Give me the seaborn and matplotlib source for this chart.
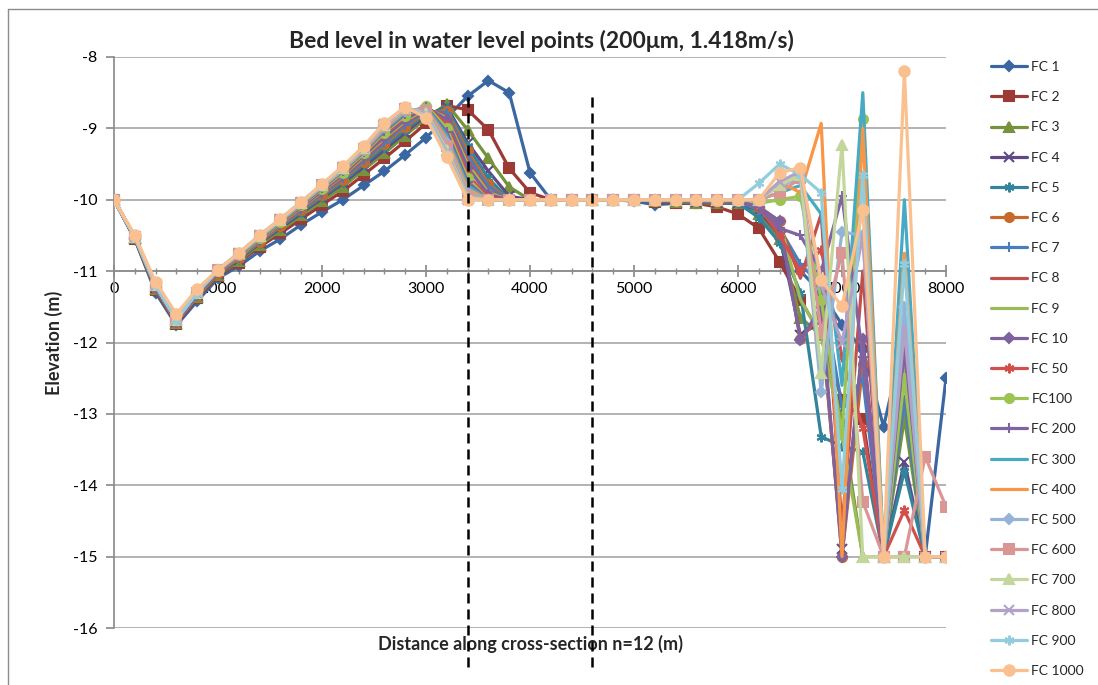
import matplotlib
matplotlib.use("Agg")
import matplotlib.pyplot as plt
from matplotlib.lines import Line2D
from matplotlib.ticker import MultipleLocator
import numpy as np
import pandas as pd
import seaborn as sns

# ---------------- data ----------------
distance = [0, 200, 400, 600, 800, 1000, 1200, 1400, 1600, 1800, 2000, 2200, 2400, 2600,
            2800, 3000, 3200, 3400, 3600, 3800, 4000, 4200, 4400, 4600, 4800, 5000, 5200,
            5400, 5600, 5800, 6000, 6200, 6400, 6600, 6800, 7000, 7200, 7400, 7600, 7800, 8000]

series_names = ["FC 1", "FC 2", "FC 3", "FC 4", "FC 5", "FC 6", "FC 7", "FC 8", "FC 9",
                "FC 10", "FC 50", "FC100", "FC 200", "FC 300", "FC 400", "FC 500", "FC 600",
                "FC 700", "FC 800", "FC 900", "FC 1000"]

fc1 = [-10.0, -10.55, -11.3, -11.76, -11.42,
       -11.1, -10.93, -10.72, -10.55, -10.35, -10.17, -10.0, -9.8, -9.6, -9.37, -9.13, -8.85, -8.55, -8.33, -8.5, -9.62,
       -10.0, -10.0, -10.0, -10.0, -10.02, -10.07, -10.05, -10.05, -10.05,
       -10.05, -10.12, -10.45, -11.0, -11.3, -11.75, -12.1, -13.18, -11.9, -15.0, -12.5]
fc2 = [-10.0, -10.55, -11.27, -11.74, -11.38,
       -11.07, -10.88, -10.66, -10.47, -10.27, -10.07, -9.88, -9.65, -9.42, -9.18, -8.93, -8.68, -8.74, -9.02, -9.56, -9.9,
       -10.0, -10.0, -10.0, -10.0, -10.0, -10.03, -10.05, -10.05, -10.1,
       -10.2, -10.4, -10.87, -11.4, -11.9, -12.8, -13.07, -15.0, -15.0, -15.0, -15.0]
fc3 = [-10.0, -10.54, -11.25, -11.72, -11.36,
       -11.05, -10.86, -10.63, -10.43, -10.22, -10.02, -9.82, -9.58, -9.35, -9.1, -8.86, -8.66, -9.02, -9.42, -9.82, -10.0,
       -10.0, -10.0, -10.0, -10.0, -10.0, -10.02, -10.03, -10.04, -10.05,
       -10.05, -10.2, -10.55, -11.65, -11.9, -13.1, -15.0, -15.0, -13.06, -15.0, -15.0]
fc4 = [-10.0, -10.53, -11.23, -11.71, -11.34,
       -11.04, -10.84, -10.61, -10.4, -10.19, -9.98, -9.77, -9.54, -9.3, -9.06, -8.82, -8.7, -9.2, -9.6, -9.95, -10.0,
       -10.0, -10.0, -10.0, -10.0, -10.0, -10.02, -10.02, -10.03, -10.04,
       -10.05, -10.15, -10.5, -11.9, -11.7, -14.9, -12.0, -15.0, -13.67, -15.0, -15.0]
fc5 = [-10.0, -10.53, -11.23, -11.71, -11.34,
       -11.03, -10.83, -10.6, -10.38, -10.17, -9.96, -9.75, -9.5, -9.26, -9.02, -8.8, -8.72, -9.25, -9.7, -10.0, -10.0,
       -10.0, -10.0, -10.0, -10.0, -10.0, -10.02, -10.02, -10.03, -10.03,
       -10.05, -10.25, -10.6, -11.3, -13.32, -13.45, -13.53, -15.0, -13.8, -15.0, -15.0]
fc6 = [-10.0, -10.53, -11.23, -11.71, -11.34,
       -11.03, -10.82, -10.59, -10.37, -10.15, -9.94, -9.72, -9.47, -9.22, -8.98, -8.78, -8.75, -9.32, -9.78, -10.0, -10.0,
       -10.0, -10.0, -10.0, -10.0, -10.0, -10.0, -10.02, -10.02, -10.03,
       -10.02, -10.1, -10.3, -11.95, -11.6, -15.0, -12.3, -15.0, -12.2, -15.0, -15.0]
fc7 = [-10.0, -10.53, -11.23, -11.71, -11.34,
       -11.02, -10.81, -10.58, -10.36, -10.14, -9.92, -9.7, -9.45, -9.2, -8.95, -8.76, -8.78, -9.38, -9.82, -10.0, -10.0,
       -10.0, -10.0, -10.0, -10.0, -10.0, -10.0, -10.02, -10.02, -10.03,
       -10.02, -10.15, -10.4, -10.9, -11.2, -12.9, -12.5, -15.0, -12.8, -15.0, -15.0]
fc8 = [-10.0, -10.53, -11.23, -11.71, -11.34,
       -11.02, -10.8, -10.57, -10.35, -10.12, -9.9, -9.68, -9.42, -9.17, -8.92, -8.74, -8.82, -9.45, -9.88, -10.0, -10.0,
       -10.0, -10.0, -10.0, -10.0, -10.0, -10.0, -10.0, -10.02, -10.02,
       -10.02, -10.1, -10.35, -11.1, -10.2, -14.6, -11.0, -15.0, -12.5, -15.0, -15.0]
fc9 = [-10.0, -10.53, -11.23, -11.71, -11.34,
       -11.01, -10.8, -10.56, -10.34, -10.11, -9.89, -9.66, -9.4, -9.14, -8.9, -8.72, -8.85, -9.5, -9.9, -10.0, -10.0,
       -10.0, -10.0, -10.0, -10.0, -10.0, -10.0, -10.0, -10.02, -10.02,
       -10.02, -10.1, -10.3, -11.4, -11.9, -13.3, -15.0, -15.0, -12.3, -15.0, -15.0]
fc10 = [-10.0, -10.53, -11.23, -11.71, -11.34,
        -11.01, -10.79, -10.55, -10.33, -10.1, -9.88, -9.65, -9.38, -9.12, -8.88, -8.7, -8.88, -9.55, -9.93, -10.0, -10.0,
        -10.0, -10.0, -10.0, -10.0, -10.0, -10.0, -10.0, -10.02, -10.02,
        -10.02, -10.1, -10.3, -11.97, -11.5, -15.0, -11.95, -15.0, -12.1, -15.0, -15.0]
fc50 = [-10.0, -10.52, -11.2, -11.68, -11.3,
        -11.0, -10.78, -10.54, -10.32, -10.09, -9.86, -9.63, -9.36, -9.08, -8.84, -8.68, -8.95, -9.65, -9.97, -10.0, -10.0,
        -10.0, -10.0, -10.0, -10.0, -10.0, -10.0, -10.0, -10.0, -10.02,
        -10.02, -10.1, -10.5, -11.0, -10.7, -12.2, -13.2, -15.0, -14.35, -15.0, -15.0]
fc100 = [-10.0, -10.52, -11.2, -11.68, -11.3,
         -11.0, -10.78, -10.54, -10.31, -10.08, -9.85, -9.62, -9.35, -9.06, -8.82, -8.68, -9.0, -9.7, -10.0, -10.0, -10.0,
         -10.0, -10.0, -10.0, -10.0, -10.0, -10.0, -10.0, -10.0, -10.02,
         -10.0, -10.05, -10.0, -9.95, -11.4, -13.3, -8.87, -15.0, -12.5, -15.0, -15.0]
fc200 = [-10.0, -10.52, -11.2, -11.68, -11.3,
         -11.0, -10.77, -10.53, -10.3, -10.07, -9.84, -9.6, -9.33, -9.04, -8.8, -8.7, -9.05, -9.75, -10.0, -10.0, -10.0,
         -10.0, -10.0, -10.0, -10.0, -10.0, -10.0, -10.0, -10.0, -10.0,
         -10.02, -10.1, -10.4, -10.5, -11.0, -9.95, -12.2, -15.0, -12.0, -15.0, -15.0]
fc300 = [-10.0, -10.52, -11.2, -11.68, -11.3,
         -10.99, -10.77, -10.53, -10.3, -10.06, -9.83, -9.59, -9.32, -9.02, -8.78, -8.7, -9.1, -9.8, -10.0, -10.0, -10.0,
         -10.0, -10.0, -10.0, -10.0, -10.0, -10.0, -10.0, -10.0, -10.0,
         -10.0, -10.0, -9.9, -9.8, -10.2, -12.6, -8.5, -15.0, -10.0, -15.0, -15.0]
fc400 = [-10.0, -10.52, -11.2, -11.68, -11.3,
         -10.99, -10.76, -10.52, -10.29, -10.05, -9.82, -9.58, -9.31, -9.0, -8.76, -8.72, -9.15, -9.85, -10.0, -10.0, -10.0,
         -10.0, -10.0, -10.0, -10.0, -10.0, -10.0, -10.0, -10.0, -10.0,
         -10.0, -10.0, -9.75, -9.9, -8.93, -15.0, -9.0, -15.0, -10.75, -15.0, -15.0]
fc500 = [-10.0, -10.52, -11.2, -11.68, -11.3,
         -10.99, -10.76, -10.52, -10.29, -10.05, -9.81, -9.57, -9.3, -8.98, -8.75, -8.74, -9.2, -9.9, -10.0, -10.0, -10.0,
         -10.0, -10.0, -10.0, -10.0, -10.0, -10.0, -10.0, -10.0, -10.0,
         -10.0, -10.0, -9.8, -9.7, -12.7, -10.45, -10.5, -15.0, -11.5, -15.0, -15.0]
fc600 = [-10.0, -10.52, -11.2, -11.68, -11.3,
         -10.99, -10.76, -10.51, -10.28, -10.04, -9.8, -9.56, -9.29, -8.97, -8.73, -8.76, -9.25, -9.95, -10.0, -10.0, -10.0,
         -10.0, -10.0, -10.0, -10.0, -10.0, -10.0, -10.0, -10.0, -10.0,
         -10.0, -10.0, -9.9, -9.7, -11.86, -10.75, -14.23, -15.0, -15.0, -13.6, -14.3]
fc700 = [-10.0, -10.52, -11.2, -11.68, -11.3,
         -10.98, -10.75, -10.51, -10.28, -10.04, -9.8, -9.55, -9.28, -8.95, -8.72, -8.78, -9.3, -9.97, -10.0, -10.0, -10.0,
         -10.0, -10.0, -10.0, -10.0, -10.0, -10.0, -10.0, -10.0, -10.0,
         -10.0, -10.0, -9.8, -9.65, -12.43, -9.23, -15.0, -15.0, -15.0, -15.0, -15.0]
fc800 = [-10.0, -10.52, -11.2, -11.68, -11.3,
         -10.98, -10.75, -10.5, -10.27, -10.03, -9.79, -9.54, -9.27, -8.94, -8.71, -8.8, -9.33, -10.0, -10.0, -10.0, -10.0,
         -10.0, -10.0, -10.0, -10.0, -10.0, -10.0, -10.0, -10.0, -10.0,
         -10.0, -10.0, -9.75, -9.6, -11.2, -12.0, -10.5, -15.0, -11.8, -15.0, -15.0]
fc900 = [-10.0, -10.52, -11.2, -11.68, -11.3,
         -10.98, -10.75, -10.5, -10.27, -10.03, -9.79, -9.54, -9.26, -8.93, -8.7, -8.82, -9.36, -10.0, -10.0, -10.0, -10.0,
         -10.0, -10.0, -10.0, -10.0, -10.0, -10.0, -10.0, -10.0, -10.0,
         -10.0, -9.77, -9.5, -9.65, -9.9, -14.05, -9.65, -15.0, -10.9, -15.0, -15.0]
fc1000 = [-10.0, -10.5, -11.15, -11.6, -11.25,
          -10.98, -10.75, -10.5, -10.27, -10.03, -9.78, -9.53, -9.25, -8.92, -8.7, -8.85, -9.4, -10.0, -10.0, -10.0, -10.0,
          -10.0, -10.0, -10.0, -10.0, -10.0, -10.0, -10.0, -10.0, -10.0,
          -10.0, -10.0, -9.62, -9.55, -11.13, -11.49, -10.14, -15.0, -8.2, -15.0, -15.0]

series_values = [fc1, fc2, fc3, fc4, fc5, fc6, fc7, fc8, fc9, fc10, fc50, fc100, fc200,
                 fc300, fc400, fc500, fc600, fc700, fc800, fc900, fc1000]

divider_x = [3400, 4600]
y_ticks = [-8, -9, -10, -11, -12, -13, -14, -15, -16]
x_ticks = [0, 1000, 2000, 3000, 4000, 5000, 6000, 7000, 8000]

# ---------------- styles ----------------
colors = ["#3A67A2", "#9C3A36", "#76923C", "#5F4A86", "#31849B", "#C7692B", "#4A7EBB",
          "#C0504D", "#9BBB59", "#7E62A0", "#D2504C", "#9CC453", "#8064A2", "#46AAC5",
          "#F79646", "#95B3D7", "#D99694", "#C3D69B", "#B3A2C7", "#93CDDD", "#FAC090"]
asterisk = (6, 2, 0)
markers = ["D", "s", "^", "x", asterisk, "o", "+", "", "", "D", asterisk, "o", "+", "",
           "", "D", "s", "^", "x", asterisk, "o"]
msizes = [5.5, 6.5, 6.5, 6.5, 7, 6.5, 7, 0, 0, 5.5, 7, 6.5, 7, 0, 0, 5.5, 6.5, 6.5, 6.5, 7, 7.5]

df = pd.DataFrame({
    "distance": distance * len(series_names),
    "elevation": [v for vals in series_values for v in vals],
    "series": [n for n in series_names for _ in distance],
})

sns.set_theme(style="white")
plt.rcParams["font.family"] = ["Lato", "DejaVu Sans"]
plt.rcParams["axes.unicode_minus"] = False

fig = plt.figure(figsize=(10.98, 6.85), dpi=100)
ax = fig.add_axes([114 / 1098, 1 - 628 / 685, (946 - 114) / 1098, (628 - 57) / 685])

for i, name in enumerate(series_names):
    sub = df[df["series"] == name]
    kw = dict(color=colors[i], linewidth=2.3, label=name, sort=False, errorbar=None, ax=ax,
              zorder=3 + i)
    if markers[i]:
        kw.update(marker=markers[i], markersize=msizes[i], markeredgecolor=colors[i],
                  markerfacecolor=colors[i], markeredgewidth=1.5)
    sns.lineplot(data=sub, x="distance", y="elevation", **kw)

# dashed dividers
ax.vlines(divider_x, -16.55, -8.55, colors="black", linestyles=(0, (4, 2.4)),
          linewidth=1.8, clip_on=False, zorder=30)

ax.set_xlim(0, 8000)
ax.set_ylim(-16, -8)
ax.set_yticks(y_ticks)
ax.set_xticks(x_ticks)
ax.xaxis.set_minor_locator(MultipleLocator(200))
ax.yaxis.grid(True, color="#A6A6A6", linewidth=1.2)
ax.xaxis.grid(False)
ax.set_axisbelow(True)

for s in ["top", "right"]:
    ax.spines[s].set_visible(False)
ax.spines["bottom"].set_position(("data", -11))
ax.spines["bottom"].set_color("#8C8C8C")
ax.spines["left"].set_color("#8C8C8C")
ax.spines["bottom"].set_zorder(2)

ax.tick_params(axis="x", which="major", direction="inout", length=8, color="#8C8C8C",
               labelsize=11.5, labelcolor="black", pad=4, bottom=True)
ax.tick_params(axis="x", which="minor", direction="inout", length=5, color="#8C8C8C",
               bottom=True)
ax.tick_params(axis="y", which="major", direction="out", length=6, color="#8C8C8C",
               labelsize=11.5, labelcolor="black", pad=6, left=True)

ax.set_xlabel("")
ax.set_ylabel("Elevation (m)", fontsize=13, fontweight="bold")
ax.yaxis.set_label_coords(-0.061, 0.5)
ax.text(0.5, -0.028, "Distance along cross-section n=12 (m)", transform=ax.transAxes,
        ha="center", va="center", fontsize=13, fontweight="bold")
fig.text(541 / 1098, 1 - 41 / 685, "Bed level in water level points (200\u03bcm, 1.418m/s)",
         ha="center", va="center", fontsize=16.5, fontweight="bold")

leg = ax.legend(loc="upper left", bbox_to_anchor=(991 / 1098, 1 - 61 / 685),
                bbox_transform=fig.transFigure, frameon=False, fontsize=10,
                handlelength=2.6, handletextpad=0.3, labelspacing=1.31,
                borderaxespad=0, borderpad=0)

# outer chart border
fig.add_artist(Line2D([8 / 1098, 1.0], [1 - 9 / 685, 1 - 9 / 685], color="#8C8C8C",
                      linewidth=1.0, transform=fig.transFigure))
fig.add_artist(Line2D([8 / 1098, 8 / 1098], [0, 1 - 9 / 685], color="#8C8C8C",
                      linewidth=1.0, transform=fig.transFigure))

fig.savefig("out.png", dpi=100)
